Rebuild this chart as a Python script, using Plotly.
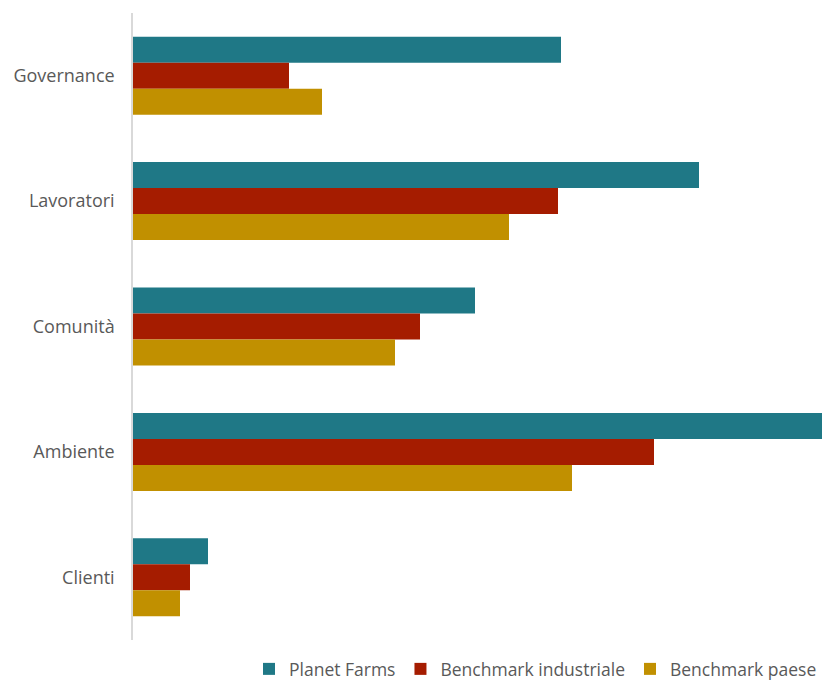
import plotly.graph_objects as go

categories = ["Governance", "Lavoratori", "Comunità", "Ambiente", "Clienti"]
planet_farms = [4.28, 5.66, 3.42, 6.92, 0.75]
benchmark_industriale = [1.56, 4.25, 2.87, 5.21, 0.57]
benchmark_paese = [1.89, 3.76, 2.62, 4.39, 0.47]

series = [
    ("Planet Farms", planet_farms, "#1F7886"),
    ("Benchmark industriale", benchmark_industriale, "#A51C00"),
    ("Benchmark paese", benchmark_paese, "#C19000"),
]

fig = go.Figure()
for name, vals, color in series:
    fig.add_trace(go.Bar(
        y=categories, x=vals, name=name, orientation="h",
        marker=dict(color=color, line=dict(width=0)),
    ))

fig.update_layout(
    width=822, height=684,
    margin=dict(l=133, r=0, t=13, b=44, autoexpand=False),
    paper_bgcolor="white", plot_bgcolor="white",
    barmode="group", bargap=0.378, bargroupgap=0,
    font=dict(family="Open Sans", size=18, color="#595959"),
    showlegend=True,
    legend=dict(orientation="h", x=1.0, xref="paper", xanchor="right",
                y=15 / 684, yref="container", yanchor="middle",
                font=dict(size=17.5, color="#595959"), traceorder="normal"),
    xaxis=dict(range=[0, 6.89], showgrid=False, zeroline=False, showticklabels=False,
               showline=False, fixedrange=True),
    yaxis=dict(autorange="reversed", showgrid=False, zeroline=False, showline=True,
               linecolor="#D9D9D9", linewidth=1.5, ticks="", ticklabelstandoff=13),
)

fig.write_html("out.html")
